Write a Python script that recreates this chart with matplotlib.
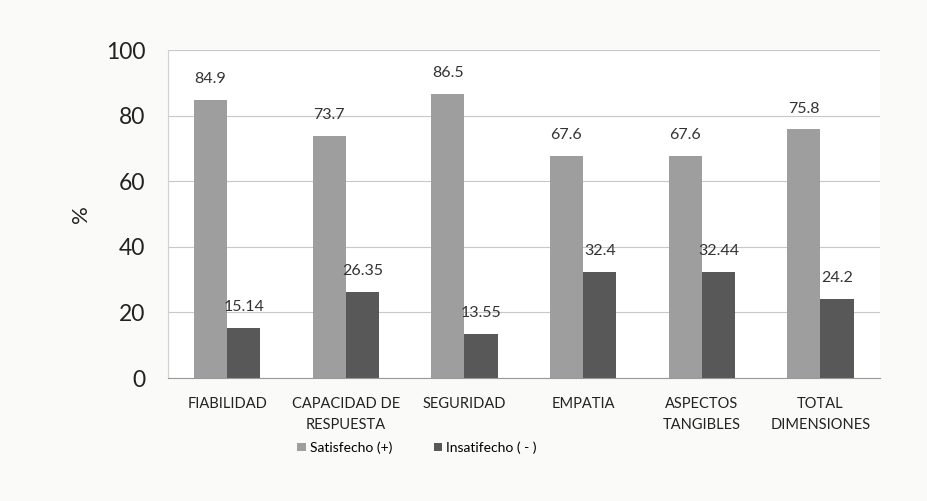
import numpy as np
import matplotlib.pyplot as plt

categorias = ["FIABILIDAD", "CAPACIDAD DE\nRESPUESTA", "SEGURIDAD", "EMPATIA",
              "ASPECTOS\nTANGIBLES", "TOTAL\nDIMENSIONES"]
satisfecho = [84.9, 73.7, 86.5, 67.6, 67.6, 75.8]
insatisfecho = [15.14, 26.35, 13.55, 32.4, 32.44, 24.2]
etiquetas_sat = ["84.9", "73.7", "86.5", "67.6", "67.6", "75.8"]
etiquetas_ins = ["15.14", "26.35", "13.55", "32.4", "32.44", "24.2"]

plt.rcParams["font.family"] = ["Lato", "DejaVu Sans"]

fig = plt.figure(figsize=(9.27, 5.01), dpi=100)
fig.patch.set_facecolor("#fafaf8")
ax = fig.add_axes([0.181, 0.2455, 0.768, 0.6545])
ax.set_facecolor("white")

x = np.arange(len(categorias))
w = 0.28
b1 = ax.bar(x - w / 2, satisfecho, w, color="#9e9e9e", label="Satisfecho (+)", zorder=2)
b2 = ax.bar(x + w / 2, insatisfecho, w, color="#585858", label="Insatifecho ( - )", zorder=2)

# etiquetas de valor sobre cada barra
for barras, textos in [(b1, etiquetas_sat), (b2, etiquetas_ins)]:
    for rect, txt in zip(barras, textos):
        ax.annotate(txt, (rect.get_x() + rect.get_width() / 2, rect.get_height()),
                    xytext=(0, 10), textcoords="offset points", ha="center", va="bottom",
                    fontsize=11.5, color="#333333")

ax.set_xlim(-0.5, len(categorias) - 0.5)
ax.set_ylim(0, 100)
ax.set_yticks([0, 20, 40, 60, 80, 100])
ax.tick_params(axis="y", labelsize=16.5, length=0, pad=16, colors="#222222")
ax.tick_params(axis="x", labelsize=10.5, length=0, pad=14, colors="#222222")
ax.set_xticks(x)
ax.set_xticklabels(categorias, linespacing=1.6)
ax.set_ylabel("%", fontsize=16, labelpad=11, color="#222222")
ax.yaxis.grid(True, color="#c8c8c8", linewidth=0.8, zorder=0)

for s in ["top", "right"]:
    ax.spines[s].set_visible(False)
ax.spines["left"].set_color("#d0d0d0")
ax.spines["bottom"].set_color("#999999")

ax.legend(loc="upper center", bbox_to_anchor=(0.35, -0.155), ncol=2, frameon=False,
          fontsize=10, handlelength=0.6, handleheight=0.6, handletextpad=0.3,
          columnspacing=3.0)

fig.savefig("out.png", dpi=100, facecolor=fig.get_facecolor())
